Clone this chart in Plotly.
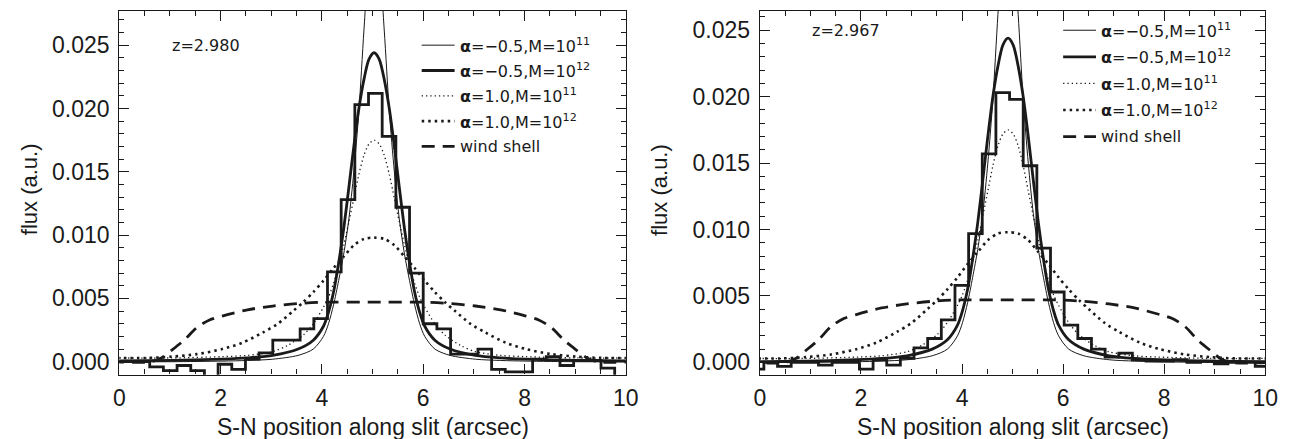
import plotly.graph_objects as go

# ---------------- data ----------------
# line centres of the two slit profiles (arcsec)
centres = [5.03, 4.91]
redshifts = ["z=2.980", "z=2.967"]

# observed flux per slit pixel: bin edges (arcsec) and values (a.u.)
edges_a = [round(0.60 + 0.27 * n, 2) for n in range(-3, 36)]
flux_a = [0.0, 0.0, 0.0, -0.0004, -0.0007, -0.0003, -0.0007, -0.0015,
          -0.0002, -0.0006, 0.0002, 0.0007, 0.0017, 0.0017, 0.0026, 0.0034,
          0.0071, 0.0128, 0.0203, 0.0212, 0.0178, 0.0122, 0.0070, 0.0030,
          0.0026, 0.0006, 0.0006, 0.0010, -0.0006, -0.0008, -0.0008, 0.0002,
          0.0004, -0.0003, 0.0001, 0.0001, -0.0005, -0.0015]

edges_b = [round(0.08 + 0.27 * n, 2) for n in range(-1, 38)]
flux_b = [-0.0005, 0.0, -0.0003, 0.0, 0.0, -0.0002, 0.0, 0.0,
          -0.0005, 0.0002, -0.0002, 0.0003, 0.0011, 0.0018, 0.0032, 0.0058,
          0.0097, 0.0157, 0.0203, 0.0198, 0.0148, 0.0086, 0.0053, 0.0028,
          0.0018, 0.0010, 0.0004, 0.0007, 0.0002, 0.0001, 0.0001, 0.0002,
          0.0, 0.0001, -0.0001, 0.0, 0.0, -0.0003]

# model profiles, tabulated against distance from the line centre (arcsec)
d_solid = [0.0, 0.1, 0.2, 0.3, 0.4, 0.5, 0.6, 0.7, 0.8, 0.9, 1.0, 1.2, 1.5,
           2.0, 2.5, 3.0, 4.0, 5.2]
solid_m11 = [0.0340, 0.0318, 0.0262, 0.0198, 0.0150, 0.0112, 0.0085, 0.0064,
             0.0045, 0.0030, 0.0020, 0.0010, 0.0005, 0.0002, 0.0001, 0.00005,
             0.0, 0.0]
solid_m12 = [0.0244, 0.0239, 0.0223, 0.0200, 0.0170, 0.0137, 0.0105, 0.0078,
             0.0055, 0.0039, 0.0028, 0.0017, 0.0010, 0.0005, 0.0003, 0.0002,
             0.0001, 0.00005]

d_dot11 = [0.0, 0.1, 0.2, 0.3, 0.4, 0.5, 0.6, 0.7, 0.8, 0.9, 1.0, 1.2, 1.4,
           1.7, 2.0, 2.5, 3.0, 4.0, 5.2]
dot_m11 = [0.0175, 0.0172, 0.0163, 0.0148, 0.0129, 0.0110, 0.0092, 0.0076,
           0.0062, 0.0051, 0.0043, 0.0030, 0.0021, 0.0013, 0.0008, 0.0005,
           0.0004, 0.0003, 0.0003]

d_dot12 = [0.0, 0.2, 0.4, 0.6, 0.8, 1.0, 1.2, 1.4, 1.6, 1.9, 2.2, 2.6, 3.0,
           3.5, 4.0, 4.5, 5.2]
dot_m12 = [0.0098, 0.0097, 0.0092, 0.0083, 0.0074, 0.0064, 0.0055, 0.0047,
           0.0040, 0.0030, 0.0023, 0.0015, 0.0010, 0.0006, 0.0004, 0.0003,
           0.0003]

d_shell = [0.0, 1.0, 1.5, 2.0, 2.5, 3.0, 3.25, 3.5, 3.75, 4.0, 4.2, 4.4, 5.2]
shell = [0.0047, 0.0047, 0.0046, 0.0044, 0.0041, 0.0036, 0.0033, 0.0027,
         0.0017, 0.0009, 0.0003, 0.0, 0.0]

legend_labels = ["<b>α</b>=−0.5,M=10<sup>11</sup>",
                 "<b>α</b>=−0.5,M=10<sup>12</sup>",
                 "<b>α</b>=1.0,M=10<sup>11</sup>",
                 "<b>α</b>=1.0,M=10<sup>12</sup>",
                 "wind shell"]
legend_rows = [0.025, 0.023, 0.021, 0.019, 0.017]

x_ticks = [0, 2, 4, 6, 8, 10]
y_ticks = [0.000, 0.005, 0.010, 0.015, 0.020, 0.025]
y_ranges = [[-0.00102, 0.0277], [-0.00092, 0.02645]]

# ---------------- styles ----------------
INK = "#1a1a1a"
styles = [
    dict(color=INK, width=1.0, dash="solid"),       # alpha=-0.5, M=1e11
    dict(color=INK, width=2.8, dash="solid"),       # alpha=-0.5, M=1e12
    dict(color=INK, width=1.3, dash="1.3px,3px"),   # alpha=1.0, M=1e11
    dict(color=INK, width=2.6, dash="2.5px,4px"),   # alpha=1.0, M=1e12
    dict(color=INK, width=2.8, dash="13px,8px"),    # wind shell
]
models = [(d_solid, solid_m11), (d_solid, solid_m12), (d_dot11, dot_m11),
          (d_dot12, dot_m12), (d_shell, shell)]


def mirrored(centre, dist, vals):
    xs = [centre - d for d in reversed(dist)] + [centre + d for d in dist[1:]]
    ys = list(reversed(vals)) + list(vals[1:])
    return xs, ys


fig = go.Figure()
panels = [(edges_a, flux_a), (edges_b, flux_b)]
for i, (edges, flux) in enumerate(panels):
    xa = "x" if i == 0 else "x2"
    ya = "y" if i == 0 else "y2"
    c = centres[i]
    for (dist, vals), st in zip(models, styles):
        xs, ys = mirrored(c, dist, vals)
        fig.add_trace(go.Scatter(x=xs, y=ys, mode="lines", xaxis=xa, yaxis=ya,
                                 line=dict(shape="spline", smoothing=0.8, **st),
                                 showlegend=False, hoverinfo="skip"))
    # histogram of the observed profile
    fig.add_trace(go.Scatter(x=edges, y=flux + [flux[-1]], mode="lines",
                             xaxis=xa, yaxis=ya,
                             line=dict(shape="hv", color=INK, width=2.8),
                             showlegend=False, hoverinfo="skip"))

# legend samples and labels, placed in data coordinates of each panel
leg_x = [(5.97, 6.62, 6.68), (6.00, 6.65, 6.71)]
label_font = dict(family="DejaVu Sans", size=16, color=INK)
for i in range(2):
    xref = "x" if i == 0 else "x2"
    yref = "y" if i == 0 else "y2"
    x0, x1, xt = leg_x[i]
    for lab, row, st in zip(legend_labels, legend_rows, styles):
        fig.add_shape(type="line", xref=xref, yref=yref, x0=x0, x1=x1,
                      y0=row, y1=row, line=st)
        fig.add_annotation(xref=xref, yref=yref, x=xt, y=row, text=lab,
                           showarrow=False, xanchor="left", yanchor="middle",
                           font=label_font)
    fig.add_annotation(xref=xref, yref=yref, x=1.0, y=0.025, text=redshifts[i],
                       showarrow=False, xanchor="left", yanchor="middle",
                       font=label_font)

W, H = 1302, 439
plot_top, plot_bot = 11, 375.5
x_domains = [[115 / W, 629 / W], [765 / W, 1278 / W]]
y_domain = [1 - plot_bot / H, 1 - plot_top / H]
axis_font = dict(family="Liberation Sans, Arial, sans-serif", size=23, color=INK)

common_x = dict(range=[0, 10], tickvals=x_ticks, ticktext=[str(t) for t in x_ticks],
                ticks="inside", ticklen=10, tickwidth=1.2, tickcolor=INK,
                minor=dict(dtick=0.5, tick0=0, ticks="inside", ticklen=5,
                           tickwidth=1.0, tickcolor=INK),
                showline=True, linecolor=INK, linewidth=1.3, mirror="allticks",
                showgrid=False, zeroline=False, tickfont=axis_font,
                ticklabelstandoff=3, fixedrange=True)
common_y = dict(tickvals=y_ticks, ticktext=["%.3f" % t for t in y_ticks],
                ticks="inside", ticklen=10, tickwidth=1.2, tickcolor=INK,
                minor=dict(dtick=0.001, tick0=0, ticks="inside", ticklen=5,
                           tickwidth=1.0, tickcolor=INK),
                showline=True, linecolor=INK, linewidth=1.3, mirror="allticks",
                showgrid=False, zeroline=False, tickfont=axis_font,
                ticklabelstandoff=4, fixedrange=True)

fig.update_layout(
    width=W, height=H, margin=dict(l=0, r=0, t=0, b=0),
    paper_bgcolor="white", plot_bgcolor="white", showlegend=False,
    xaxis=dict(domain=x_domains[0], anchor="y", **common_x),
    yaxis=dict(domain=y_domain, anchor="x", range=y_ranges[0], **common_y),
    xaxis2=dict(domain=x_domains[1], anchor="y2", **common_x),
    yaxis2=dict(domain=y_domain, anchor="x2", range=y_ranges[1], **common_y),
)

# axis titles
for i in range(2):
    xc = (x_domains[i][0] + x_domains[i][1]) / 2
    fig.add_annotation(xref="paper", yref="paper", x=xc, y=1 - 428 / H,
                       text="S-N position along slit (arcsec)", showarrow=False,
                       xanchor="center", yanchor="middle", font=axis_font)
    ytx = [24 / W, 663 / W][i]
    fig.add_annotation(xref="paper", yref="paper", x=ytx, y=1 - 190 / H,
                       text="flux (a.u.)", textangle=-90, showarrow=False,
                       xanchor="center", yanchor="middle",
                       font=dict(family="Liberation Sans, Arial, sans-serif",
                                 size=22, color=INK))

fig.write_html("out.html")
